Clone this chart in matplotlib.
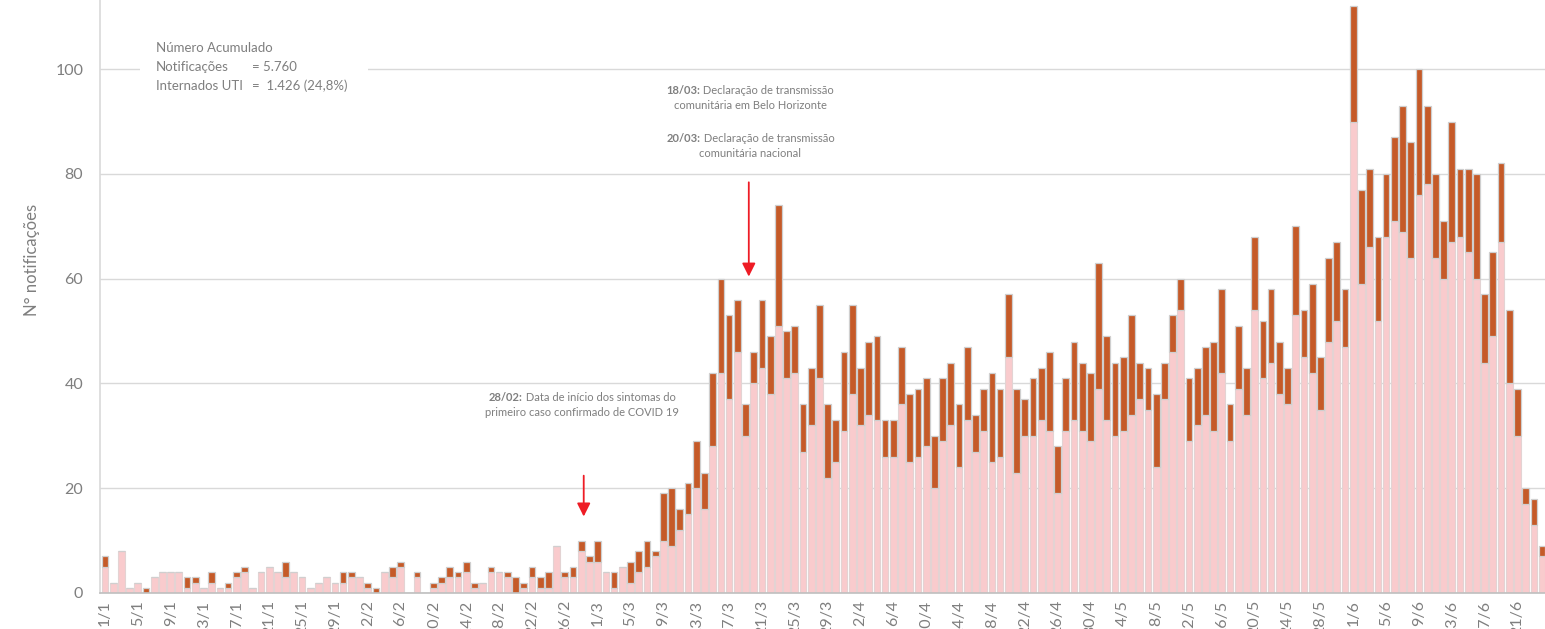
import matplotlib
matplotlib.use("Agg")
import matplotlib.pyplot as plt
import numpy as np
import pandas as pd
from matplotlib.offsetbox import TextArea, HPacker, VPacker, AnnotationBbox
from matplotlib.patches import Rectangle

plt.rcParams["font.family"] = ["Lato", "DejaVu Sans"]

START = "2020-01-01"

# total de notificações por dia
total = [
    7, 2, 8, 1, 2, 1, 3, 4, 4, 4, 3, 3, 1, 4, 1, 2, 4, 5, 1, 4,
    5, 4, 6, 4, 3, 1, 2, 3, 2, 4, 4, 3, 2, 1, 4, 5, 6, 0, 4, 0,
    2, 3, 5, 4, 6, 2, 2, 5, 4, 4, 3, 2, 5, 3, 4, 9, 4, 5, 10, 7,
    10, 4, 4, 5, 6, 8, 10, 8, 19, 20, 16, 21, 29, 23, 42, 60, 53, 56, 36, 46,
    56, 49, 74, 50, 51, 36, 43, 55, 36, 33, 46, 55, 43, 48, 49, 33, 33, 47, 38, 39,
    41, 30, 41, 44, 36, 47, 34, 39, 42, 39, 57, 39, 37, 41, 43, 46, 28, 41, 48, 44,
    42, 63, 49, 44, 45, 53, 44, 43, 38, 44, 53, 60, 41, 43, 47, 48, 58, 36, 51, 43,
    68, 52, 58, 48, 43, 70, 54, 59, 45, 64, 67, 58, 112, 77, 81, 68, 80, 87, 93, 86,
    100, 93, 80, 71, 90, 81, 81, 80, 57, 65, 82, 54, 39, 20, 18, 9,
]

# notificações sem internação em UTI
nao_uti = [
    5, 2, 8, 1, 2, 0, 3, 4, 4, 4, 1, 2, 1, 2, 1, 1, 3, 4, 1, 4,
    5, 4, 3, 4, 3, 1, 2, 3, 2, 2, 3, 3, 1, 0, 4, 3, 5, 0, 3, 0,
    1, 2, 3, 3, 4, 1, 2, 4, 4, 3, 0, 1, 3, 1, 1, 9, 3, 3, 8, 6,
    6, 4, 1, 5, 2, 4, 5, 7, 10, 9, 12, 15, 20, 16, 28, 42, 37, 46, 30, 40,
    43, 38, 51, 41, 42, 27, 32, 41, 22, 25, 31, 38, 32, 34, 33, 26, 26, 36, 25, 26,
    28, 20, 29, 32, 24, 33, 27, 31, 25, 26, 45, 23, 30, 30, 33, 31, 19, 31, 33, 31,
    29, 39, 33, 30, 31, 34, 37, 35, 24, 37, 46, 54, 29, 32, 34, 31, 42, 29, 39, 34,
    54, 41, 44, 38, 36, 53, 45, 42, 35, 48, 52, 47, 90, 59, 66, 52, 68, 71, 69, 64,
    76, 78, 64, 60, 67, 68, 65, 60, 44, 49, 67, 40, 30, 17, 13, 7,
]

uti = [t - n for t, n in zip(total, nao_uti)]

datas = pd.date_range(START, periods=len(total), freq="D")
rotulos = [f"{d.day}/{d.month}" for d in datas]

CINZA = "#7f7f7f"
ROSA = "#f9cbcd"
LARANJA = "#c55a28"

fig = plt.figure(figsize=(15.45, 6.29), dpi=100)
ax = fig.add_axes([100 / 1545, 36 / 629, 1445 / 1545, 593 / 629])

x = np.arange(len(total))
ax.bar(x, nao_uti, width=0.82, color=ROSA, edgecolor="#e3d3d3", linewidth=0.8, zorder=2)
ax.bar(x, uti, bottom=nao_uti, width=0.82, color=LARANJA, edgecolor="#cfcfcf", linewidth=0.9, zorder=2)

ax.set_xlim(-0.6, 175.35)
ax.set_ylim(0, 113.2)
ax.set_yticks(range(0, 101, 20))
ax.set_xticks(x[::4])
ax.set_xticklabels(rotulos[::4], rotation=90)
ax.tick_params(axis="both", length=0, colors=CINZA, labelsize=11.5)
ax.tick_params(axis="x", pad=5)
ax.tick_params(axis="y", pad=12)
ax.yaxis.grid(True, color="#d9d9d9", linewidth=1)
ax.set_axisbelow(True)
for s in ["top", "right"]:
    ax.spines[s].set_visible(False)
ax.spines["left"].set_color("#d9d9d9")
ax.spines["bottom"].set_color("#bfbfbf")
ax.spines["left"].set_linewidth(1.2)
ax.spines["bottom"].set_linewidth(1.2)

fig.text(32 / 1545, 1 - 260 / 629, "N° notificações", rotation=90, ha="center", va="center",
         color=CINZA, fontsize=12)

# caixa com o número acumulado
ax.add_patch(Rectangle((4.25, 94.0), 27.8, 13.0, facecolor="white", edgecolor="none", zorder=2.5))
linhas = [("Número Acumulado", ""), ("Notificações", "= 5.760"), ("Internados UTI", "=  1.426 (24,8%)")]
for i, (rot, val) in enumerate(linhas):
    yy = 104.0 - i * 3.6
    ax.text(6.2, yy, rot, color=CINZA, fontsize=9.5, va="center", ha="left", zorder=3)
    if val:
        ax.text(17.9, yy, val, color=CINZA, fontsize=9.5, va="center", ha="left", zorder=3)


def bloco(linhas, fs=8):
    filhos = []
    for partes in linhas:
        areas = [TextArea(t, textprops=dict(color=CINZA, fontsize=fs, fontweight=w)) for t, w in partes]
        filhos.append(HPacker(children=areas, align="baseline", pad=0, sep=0))
    return VPacker(children=filhos, align="center", pad=0, sep=3)


def coloca(box, xy):
    ab = AnnotationBbox(box, xy, xycoords="data", box_alignment=(0.5, 1), frameon=False,
                        pad=0, zorder=4)
    ax.add_artist(ab)


coloca(bloco([[("28/02:", "bold"), (" Data de início dos sintomas do", "normal")],
              [("primeiro caso confirmado de COVID 19", "normal")]]), (58.1, 38.4))
coloca(bloco([[("18/03:", "bold"), (" Declaração de transmissão", "normal")],
              [("comunitária em Belo Horizonte", "normal")]]), (78.6, 97.0))
coloca(bloco([[("20/03:", "bold"), (" Declaração de transmissão", "normal")],
              [("comunitária nacional", "normal")]]), (78.6, 87.8))

seta = dict(arrowstyle="-|>", color="#ee1c25", lw=1.3, mutation_scale=20, shrinkA=0, shrinkB=0)
ax.annotate("", xy=(58.3, 14.6), xytext=(58.3, 22.4), arrowprops=seta, zorder=5)
ax.annotate("", xy=(78.4, 60.4), xytext=(78.4, 78.4), arrowprops=seta, zorder=5)

fig.savefig("out.png", dpi=100)
